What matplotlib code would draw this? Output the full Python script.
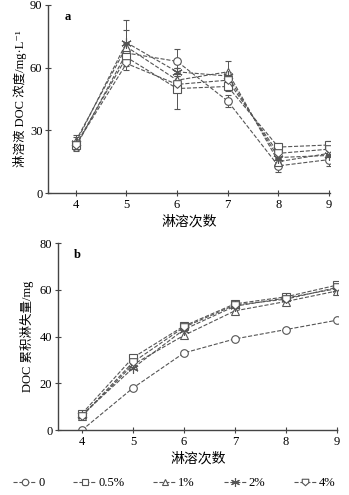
import matplotlib
matplotlib.use("Agg")
import matplotlib.pyplot as plt
from matplotlib.path import Path
import numpy as np

plt.rcParams['font.family'] = ['Liberation Serif', 'Noto Sans CJK SC', 'DejaVu Serif']

x = [4, 5, 6, 7, 8, 9]
labels = ['0', '0.5%', '1%', '2%', '4%']

# Panel a: leachate DOC concentration (mg/L)
conc_0 = [22, 67, 63, 44, 13, 16]
conc_05 = [23, 65, 50, 51, 22, 23]
conc_1 = [25, 70, 54, 58, 15, 19]
conc_2 = [24, 72, 58, 56, 17, 18]
conc_4 = [23, 62, 52, 54, 19, 21]
err_0 = [2, 5, 6, 3, 3, 3]
err_05 = [2, 3, 10, 2, 2, 2]
err_1 = [3, 8, 2, 5, 2, 2]
err_2 = [3, 11, 2, 2, 2, 2]
err_4 = [2, 3, 2, 2, 2, 2]

# Panel b: cumulative DOC loss (mg)
cum_0 = [0, 18, 33, 39, 43, 47]
cum_05 = [7, 31, 44.5, 54, 57, 62]
cum_1 = [6, 28, 40.5, 51, 55, 59.5]
cum_2 = [6.5, 26.5, 43, 53, 56.5, 60.5]
cum_4 = [6, 29, 44, 53.5, 56, 61]

shield = Path([(-1, 1), (1, 1), (1, -0.1), (0, -1), (-1, -0.1), (-1, 1)],
              [Path.MOVETO, Path.LINETO, Path.LINETO, Path.LINETO, Path.LINETO, Path.CLOSEPOLY])
markers = ['o', 's', '^', (6, 2, 0), shield]
sizes = [5.5, 5.5, 5.5, 7.5, 5.5]
gray = '#555555'

fig = plt.figure(figsize=(3.49, 4.95), dpi=100)
axa = fig.add_axes([0.1375, 0.610, 0.808, 0.380])
axb = fig.add_axes([0.166, 0.131, 0.802, 0.378])

conc = [conc_0, conc_05, conc_1, conc_2, conc_4]
errs = [err_0, err_05, err_1, err_2, err_4]
cums = [cum_0, cum_05, cum_1, cum_2, cum_4]

for i in range(5):
    axa.errorbar(x, conc[i], yerr=errs[i], color=gray, ls='--', lw=0.8,
                 marker=markers[i], ms=sizes[i], mfc='white', mec=gray, mew=0.8,
                 capsize=2.5, elinewidth=0.7, capthick=0.7)
    axb.plot(x, cums[i], color=gray, ls='--', lw=0.8, marker=markers[i],
             ms=sizes[i], mfc='white', mec=gray, mew=0.8, label=labels[i])

for ax, ylim, yt in [(axa, (0, 90), [0, 30, 60, 90]), (axb, (0, 80), [0, 20, 40, 60, 80])]:
    ax.set_ylim(*ylim)
    ax.set_yticks(yt)
    ax.set_xticks(x)
    for s in ['top', 'right']:
        ax.spines[s].set_visible(False)
    for s in ['left', 'bottom']:
        ax.spines[s].set_linestyle((0, (1, 1)))
        ax.spines[s].set_color('#444444')
        ax.spines[s].set_linewidth(1.0)
    ax.tick_params(direction='inout', length=4, width=0.8, colors='#444444',
                   labelsize=9, labelcolor='black', pad=2)
    ax.set_xlabel('淋溶次数', fontsize=10, labelpad=3)

axa.set_xlim(3.45, 9.02)
axb.set_xlim(3.53, 9.02)

axa.set_ylabel('淋溶液 DOC 浓度/mg·L⁻¹', fontsize=9, labelpad=2)
axb.set_ylabel('DOC 累积淋失量/mg', fontsize=9, labelpad=4)

axa.text(0.06, 0.92, 'a', transform=axa.transAxes, fontsize=9, fontweight='bold')
axb.text(0.055, 0.92, 'b', transform=axb.transAxes, fontsize=9, fontweight='bold')

h, l = axb.get_legend_handles_labels()
fig.legend(h, l, loc='center', bbox_to_anchor=(0.5, 0.024), ncol=5, frameon=False,
           fontsize=9, handlelength=1.8, columnspacing=2.3, handletextpad=0.2,
           markerscale=0.85)

fig.savefig('out.png', dpi=100)
